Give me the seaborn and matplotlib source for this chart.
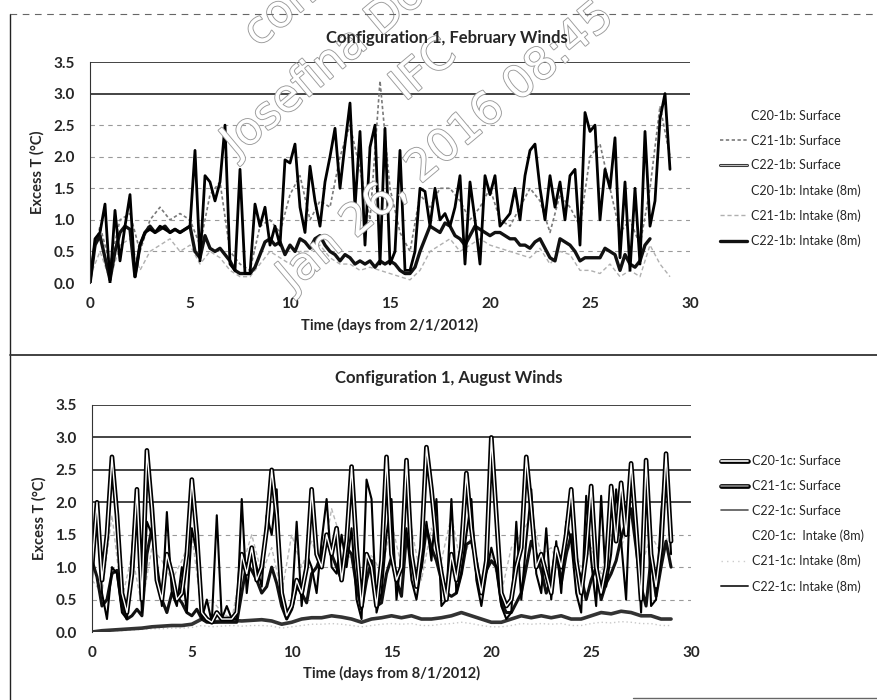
import numpy as np
import pandas as pd
import matplotlib
matplotlib.use("Agg")
import matplotlib.pyplot as plt
import matplotlib.patheffects as pe
from matplotlib.lines import Line2D
import seaborn as sns

# ---------------- data ----------------
y_ticks = [0.0, 0.5, 1.0, 1.5, 2.0, 2.5, 3.0, 3.5]
x_ticks = [0, 5, 10, 15, 20, 25, 30]

feb_title = "Configuration 1, February Winds"
aug_title = "Configuration 1, August Winds"
feb_xlabel = "Time (days from 2/1/2012)"
aug_xlabel = "Time (days from 8/1/2012)"
ylabel = "Excess T (°C)"

feb_labels = ["C20-1b: Surface", "C21-1b: Surface", "C22-1b: Surface",
              "C20-1b: Intake (8m)", "C21-1b: Intake (8m)", "C22-1b: Intake (8m)"]
aug_labels = ["C20-1c: Surface", "C21-1c: Surface", "C22-1c: Surface",
              "C20-1c:  Intake (8m)", "C21-1c: Intake (8m)", "C22-1c: Intake (8m)"]

# February, quarter-day samples
feb_c22_surface = [
    0.0, 0.7, 0.8, 1.25,   0.0, 1.15, 0.35, 0.9,   1.4, 0.1, 0.6, 0.8,
    0.85, 0.8, 0.9, 0.85,  0.8, 0.85, 0.8, 0.85,   0.9, 2.1, 0.35, 1.7,
    1.6, 1.3, 1.6, 2.5,    0.3, 0.2, 1.8, 0.15,    0.15, 1.25, 0.9, 1.2,
    0.6, 0.9, 0.6, 1.95,   1.9, 2.2, 1.2, 0.8,     1.85, 1.3, 0.9, 1.6,
    2.0, 2.45, 1.5, 2.2,   2.85, 1.2, 2.4, 0.6,    2.15, 2.5, 0.3, 2.45,
    0.3, 0.5, 2.1, 0.2,    0.2, 0.5, 1.5, 1.45,    0.9, 1.5, 1.0, 1.1,
    0.9, 1.2, 1.7, 0.3,    1.6, 1.0, 0.3, 1.7,     1.4, 1.7, 0.9, 1.0,
    1.1, 1.5, 1.0, 1.7,    2.1, 2.2, 1.5, 1.0,     1.7, 1.2, 1.6, 1.0,
    1.7, 1.8, 0.6, 2.7,    2.4, 2.5, 1.0, 1.8,     1.5, 2.3, 0.4, 1.6,
    0.2, 1.5, 0.3, 2.4,    0.9, 1.3, 2.6, 3.0,     1.8]
feb_c22_intake = [
    0.0, 0.6, 0.75, 0.4,   0.05, 0.5, 0.8, 0.9,    0.85, 0.1, 0.6, 0.8,
    0.9, 0.8, 0.85, 0.9,   0.8, 0.85, 0.8, 0.85,   0.9, 0.5, 0.4, 0.75,
    0.55, 0.5, 0.55, 0.45, 0.35, 0.2, 0.15, 0.15,  0.15, 0.25, 0.45, 0.65,
    0.7, 0.6, 0.65, 0.45,  0.6, 0.5, 0.7, 0.65,    0.55, 0.7, 0.75, 0.6,
    0.5, 0.45, 0.35, 0.45, 0.4, 0.3, 0.35, 0.3,    0.35, 0.25, 0.35, 0.3,
    0.35, 0.3, 0.2, 0.15,  0.15, 0.25, 0.5, 0.7,   0.9, 0.85, 0.8, 0.95,
    0.9, 0.75, 0.7, 0.6,   0.75, 0.9, 0.85, 0.8,   0.75, 0.8, 0.8, 0.75,
    0.7, 0.7, 0.6, 0.6,    0.55, 0.65, 0.7, 0.55,  0.4, 0.35, 0.7, 0.65,
    0.6, 0.5, 0.35, 0.4,   0.4, 0.4, 0.4, 0.55,    0.5, 0.45, 0.2, 0.45,
    0.3, 0.25, 0.35, 0.6,  0.7]
# February, half-day samples
feb_c21_surface = [
    0.2, 0.9, 0.3, 1.0, 1.1, 0.5, 1.0, 1.2, 1.0, 1.1,
    1.0, 0.6, 1.4, 1.6, 0.5, 0.3, 0.2, 0.9, 1.0, 0.8,
    1.4, 1.7, 1.0, 1.3, 1.2, 2.0, 2.5, 1.8, 1.0, 3.2,
    1.5, 0.8, 0.5, 1.4, 1.2, 1.5, 1.5, 1.3, 1.0, 1.2,
    1.5, 1.0, 0.9, 1.2, 1.5, 1.3, 0.8, 1.4, 1.2, 0.9,
    2.0, 2.2, 1.5, 0.8, 1.0, 0.6, 1.5, 2.8, 2.0]
feb_c21_intake = [
    0.1, 0.5, 0.05, 0.6, 0.7, 0.2, 0.5, 0.6, 0.7, 0.5,
    0.6, 0.3, 0.5, 0.4, 0.2, 0.1, 0.1, 0.3, 0.5, 0.4,
    0.3, 0.5, 0.5, 0.6, 0.4, 0.3, 0.3, 0.2, 0.25, 0.2,
    0.15, 0.1, 0.05, 0.2, 0.5, 0.6, 0.7, 0.5, 0.6, 0.7,
    0.6, 0.55, 0.5, 0.45, 0.4, 0.55, 0.3, 0.5, 0.45, 0.2,
    0.2, 0.15, 0.3, 0.1, 0.2, 0.1, 0.6, 0.3, 0.1]

# August, quarter-day samples
aug_c20_surface = [
    1.0, 2.0, 0.8, 1.5,    2.7, 1.8, 0.6, 0.3,     0.9, 2.2, 0.5, 2.8,
    1.9, 0.8, 0.5, 1.2,    0.9, 0.5, 0.6, 1.2,     2.35, 1.5, 0.3, 0.2,
    0.15, 0.3, 0.2, 0.2,   0.2, 0.3, 1.2, 0.9,     1.3, 0.8, 1.0, 1.6,
    2.5, 1.8, 0.6, 0.25,   0.4, 0.8, 0.6, 1.0,     2.2, 1.2, 1.0, 1.5,
    1.2, 1.6, 0.8, 1.4,    2.55, 1.3, 0.4, 1.2,    1.0, 0.4, 1.1, 2.7,
    1.2, 0.8, 1.0, 2.65,   1.2, 0.7, 1.3, 2.85,    2.2, 1.4, 0.9, 0.5,
    1.2, 0.8, 1.3, 2.45,   1.6, 1.0, 0.6, 1.1,     3.0, 1.8, 0.6, 0.4,
    0.5, 1.0, 1.3, 2.7,    1.9, 1.0, 1.2, 0.9,     0.6, 1.3, 1.0, 1.5,
    2.2, 1.1, 0.6, 1.2,    2.25, 1.0, 0.6, 1.0,    2.25, 1.4, 2.3, 1.5,
    2.6, 1.6, 0.5, 2.65,   1.2, 0.7, 1.3, 2.75,    1.4]
aug_c21_surface = [
    0.8, 2.0, 0.6, 0.2,    1.0, 0.9, 0.3, 0.2,     1.2, 2.2, 0.3, 1.7,
    1.5, 1.0, 0.4, 1.85,   0.6, 0.4, 1.0, 0.3,     1.6, 1.2, 0.2, 0.5,
    0.15, 1.8, 0.2, 0.4,   0.2, 0.2, 2.05, 0.6,    1.3, 1.0, 0.7, 1.8,
    1.5, 2.2, 0.5, 0.2,    0.4, 1.7, 0.4, 1.2,     1.0, 0.6, 1.4, 2.05,
    1.0, 0.9, 1.5, 1.0,    1.6, 0.5, 0.2, 2.35,    2.05, 0.3, 0.6, 1.5,
    2.05, 0.5, 1.2, 1.6,   0.8, 0.5, 1.0, 1.7,     1.1, 2.05, 0.4, 0.5,
    2.05, 0.6, 0.9, 1.5,   2.05, 0.8, 0.4, 0.9,    1.3, 1.0, 0.4, 0.2,
    0.3, 1.7, 0.5, 1.4,    2.2, 0.9, 0.6, 1.6,     0.5, 1.4, 0.6, 1.7,
    1.4, 0.6, 0.3, 2.1,    1.1, 0.4, 2.1, 0.7,     1.2, 2.2, 1.4, 0.5,
    2.5, 1.6, 0.3, 2.6,    0.4, 0.5, 1.8, 2.7,     1.2]
aug_c22_surface = [
    1.1, 0.85, 0.4, 0.5,   0.9, 0.95, 0.4, 0.2,    0.25, 0.35, 0.25, 1.2,
    1.6, 1.0, 0.5, 0.3,    0.6, 0.55, 0.45, 0.3,   0.25, 0.35, 0.2, 0.15,
    0.15, 0.15, 0.15, 0.15, 0.15, 0.15, 0.6, 1.05, 0.95, 0.8, 0.6, 0.7,
    1.0, 0.75, 0.4, 0.2,   0.35, 0.7, 0.6, 0.45,   0.9, 1.0, 1.2, 1.45,
    1.2, 1.0, 0.8, 1.3,    1.2, 0.7, 0.35, 0.8,    1.1, 0.4, 0.45, 0.9,
    1.15, 0.8, 0.55, 1.5,  1.1, 0.8, 1.0, 1.6,     1.3, 1.1, 0.8, 0.6,
    0.55, 0.6, 0.9, 1.35,  1.4, 1.1, 0.65, 0.95,   1.1, 1.0, 0.45, 0.3,
    0.3, 0.45, 0.6, 1.0,   1.4, 1.2, 0.95, 0.6,    0.8, 1.3, 0.75, 1.2,
    1.5, 1.0, 0.85, 0.5,   0.8, 1.0, 0.5, 0.75,    0.9, 1.1, 1.45, 1.7,
    1.9, 1.3, 0.7, 0.4,    1.15, 0.55, 1.0, 1.4,   1.0]
# August, half-day samples
aug_c20_intake = [
    0.0, 0.01, 0.02, 0.02, 0.03, 0.04, 0.05, 0.05, 0.06, 0.06,
    0.07, 0.1, 0.08, 0.09, 0.1, 0.09, 0.1, 0.1, 0.09, 0.06,
    0.08, 0.1, 0.12, 0.12, 0.13, 0.12, 0.1, 0.08, 0.1, 0.12,
    0.13, 0.12, 0.13, 0.1, 0.1, 0.12, 0.13, 0.15, 0.13, 0.1,
    0.08, 0.08, 0.1, 0.13, 0.12, 0.13, 0.12, 0.13, 0.1, 0.1,
    0.13, 0.15, 0.14, 0.16, 0.15, 0.13, 0.13, 0.1, 0.1]
aug_c21_intake = [
    0.8, 0.6, 1.8, 0.5, 1.2, 0.4, 1.3, 1.1, 0.8, 1.1,
    1.5, 0.3, 0.5, 0.3, 0.2, 1.0, 1.5, 0.9, 1.3, 0.6,
    1.5, 1.0, 1.4, 1.0, 1.9, 1.4, 1.1, 0.6, 1.2, 0.9,
    1.7, 1.0, 1.6, 0.8, 1.6, 1.1, 1.8, 1.0, 1.5, 0.8,
    1.2, 0.6, 1.3, 1.5, 1.8, 1.2, 1.3, 0.9, 1.4, 1.0,
    1.3, 0.9, 1.5, 1.3, 1.8, 1.0, 1.5, 1.2, 1.6]
aug_c22_intake = [
    0.0, 0.02, 0.03, 0.04, 0.05, 0.06, 0.08, 0.09, 0.1, 0.1,
    0.12, 0.2, 0.15, 0.17, 0.18, 0.17, 0.18, 0.19, 0.17, 0.12,
    0.15, 0.2, 0.22, 0.22, 0.25, 0.23, 0.2, 0.15, 0.2, 0.22,
    0.25, 0.22, 0.25, 0.2, 0.2, 0.22, 0.25, 0.3, 0.25, 0.2,
    0.15, 0.15, 0.2, 0.25, 0.22, 0.25, 0.22, 0.25, 0.2, 0.2,
    0.25, 0.3, 0.28, 0.32, 0.3, 0.25, 0.25, 0.2, 0.2]

QUARTER, HALF = 0.25, 0.5


def times(values, step):
    return [i * step for i in range(len(values))]


# ---------------- style ----------------
sns.set_style("white")
plt.rcParams["font.family"] = ["Lato", "DejaVu Sans"]

W, H = 878, 700
fig = plt.figure(figsize=(W / 100, H / 100), dpi=100)


def axrect(x0, y0, x1, y1):
    return [x0 / W, 1 - y1 / H, (x1 - x0) / W, (y1 - y0) / H]


ax1 = fig.add_axes(axrect(90, 62, 690, 283))
ax2 = fig.add_axes(axrect(92, 405, 691, 632))


def draw(ax, vals, step, **kw):
    sns.lineplot(x=times(vals, step), y=vals, ax=ax, estimator=None,
                 sort=False, legend=False, **kw)
    return ax.lines[-1]


def frame(ax, solid_levels, xlabel, ylab_y):
    for yv in y_ticks:
        if yv in solid_levels:
            ax.axhline(yv, color="#111111", lw=1.1, zorder=0)
        elif yv > 0:
            ax.axhline(yv, color="#9a9a9a", lw=0.8, ls=(0, (4, 4)), zorder=0)
    ax.axhline(0, color="#bbbbbb", lw=0.7, ls=(0, (3, 3)), zorder=0)
    ax.set_xlim(0, 30)
    ax.set_ylim(0, 3.5)
    ax.set_xticks(x_ticks)
    ax.set_xticklabels([str(v) for v in x_ticks], fontsize=11, fontweight="bold")
    ax.set_yticks(y_ticks)
    ax.set_yticklabels([f"{v:.1f}" for v in y_ticks], fontsize=11, fontweight="bold")
    ax.tick_params(axis="both", length=0)
    ax.tick_params(axis="y", pad=11)
    ax.tick_params(axis="x", pad=10)
    for s in ["top", "right", "bottom"]:
        ax.spines[s].set_visible(False)
    ax.spines["left"].set_color("#333333")
    ax.spines["left"].set_linewidth(0.8)
    ax.set_xlabel(xlabel, fontsize=10.5, fontweight="bold")
    ax.xaxis.set_label_coords(0.5, ylab_y)
    ax.set_ylabel(ylabel, fontsize=10.5, fontweight="bold")
    ax.yaxis.set_label_coords(-0.075, 0.5)
    ax.set_facecolor("none")


# ---------------- February panel ----------------
h_c21i = draw(ax1, feb_c21_intake, HALF, color="#b0b0b0", lw=1.0, dashes=(3, 2))
h_c21s = draw(ax1, feb_c21_surface, HALF, color="#7a7a7a", lw=1.2, dashes=(2, 1.5))
h_c22i = draw(ax1, feb_c22_intake, QUARTER, color="#111111", lw=2.4)
h_c22s = draw(ax1, feb_c22_surface, QUARTER, color="#000000", lw=2.0)
frame(ax1, [3.0, 3.5], feb_xlabel, -0.16)

blank = Line2D([], [], color="none")
leg_feb_c22s = Line2D([], [], color="#bbbbbb", lw=0.8,
                      path_effects=[pe.Stroke(linewidth=2.2, foreground="#333333"), pe.Normal()])
ax1.legend([blank, h_c21s, leg_feb_c22s, blank, h_c21i, h_c22i], feb_labels,
           loc="center left", bbox_to_anchor=(1.05, 0.473), frameon=False,
           fontsize=9, handlelength=2.2, handletextpad=0.25, labelspacing=1.02,
           borderaxespad=0, borderpad=0)

# ---------------- August panel ----------------
a_c21i = draw(ax2, aug_c21_intake, HALF, color="#b8b8b8", lw=1.0, dashes=(3, 2))
a_c20i = draw(ax2, aug_c20_intake, HALF, color="#c8c8c8", lw=1.0, dashes=(1, 2))
a_c22i = draw(ax2, aug_c22_intake, HALF, color="#333333", lw=2.6)
a_c22s = draw(ax2, aug_c22_surface, QUARTER, color="#111111", lw=2.2)
a_c21s = draw(ax2, aug_c21_surface, QUARTER, color="#000000", lw=1.5)
a_c20s = draw(ax2, aug_c20_surface, QUARTER, color="white", lw=1.0)
a_c20s.set_path_effects([pe.Stroke(linewidth=3.4, foreground="black"), pe.Normal()])
frame(ax2, [2.0, 2.5, 3.0, 3.5], aug_xlabel, -0.15)

leg_c20s = Line2D([], [], color="white", lw=1.2,
                  path_effects=[pe.Stroke(linewidth=3.4, foreground="black"), pe.Normal()])
leg_c21s = Line2D([], [], color="#888888", lw=1.2,
                  path_effects=[pe.Stroke(linewidth=3.4, foreground="black"), pe.Normal()])
leg_c22s = Line2D([], [], color="#555555", lw=1.2)
leg_c21i = Line2D([], [], color="#cccccc", lw=1.0, ls=(0, (1, 3)))
leg_c22i = Line2D([], [], color="#333333", lw=1.4)
ax2.legend([leg_c20s, leg_c21s, leg_c22s, blank, leg_c21i, leg_c22i], aug_labels,
           loc="center left", bbox_to_anchor=(1.05, 0.476), frameon=False,
           fontsize=9, handlelength=2.2, handletextpad=0.25, labelspacing=1.02,
           borderaxespad=0, borderpad=0)

# ---------------- titles ----------------
fig.text(447 / W, 1 - 38 / H, feb_title, ha="center", va="center",
         fontsize=12, fontweight="bold", zorder=20)
fig.text(449 / W, 1 - 378 / H, aug_title, ha="center", va="center",
         fontsize=12, fontweight="bold", zorder=20)

# ---------------- page frame lines ----------------
fig.add_artist(Line2D([10 / W, 10 / W], [1 - 14 / H, 0.0], transform=fig.transFigure,
                      color="#222222", lw=1.0))
fig.add_artist(Line2D([10 / W, 1.0], [1 - 355 / H, 1 - 355 / H], transform=fig.transFigure,
                      color="#333333", lw=1.3))
fig.add_artist(Line2D([10 / W, 1.0], [1 - 14 / H, 1 - 14 / H], transform=fig.transFigure,
                      color="#666666", lw=0.8, ls=(0, (6, 5))))
fig.add_artist(Line2D([633 / W, 1.0], [1 - 698 / H, 1 - 698 / H], transform=fig.transFigure,
                      color="#666666", lw=1.0))

# ---------------- watermark (cut by the page edge, as in the scan) ----------------
wm_fx = [pe.Stroke(linewidth=1.3, foreground="#9a9a9a"), pe.Normal()]
for txt, x, y in [("commercial", 258, 48), ("Josefina Doe", 236, 158),
                  ("IFC", 405, 102), ("Jan 26, 2016 08:45", 292, 292)]:
    fig.text(x / W, 1 - y / H, txt, rotation=40, rotation_mode="anchor",
             ha="left", va="baseline", fontsize=32, color="white",
             family="DejaVu Sans", path_effects=wm_fx, zorder=1)

fig.savefig("out.png", dpi=100)
